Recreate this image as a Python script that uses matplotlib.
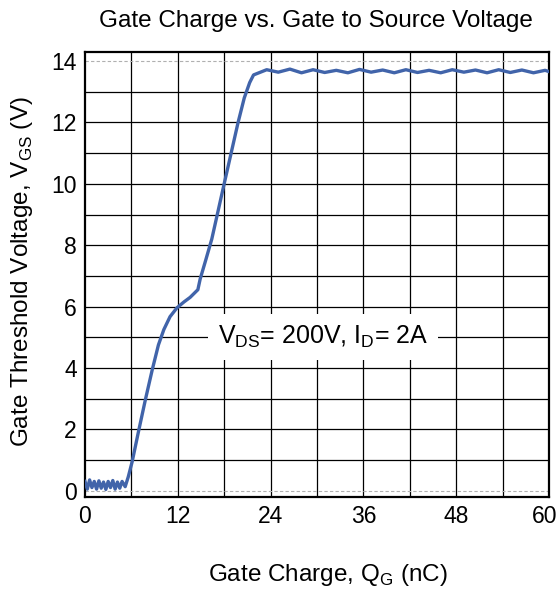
import matplotlib
matplotlib.use("Agg")
import matplotlib.pyplot as plt
import matplotlib.transforms as mtransforms
import numpy as np

plt.rcParams['font.family'] = ['Liberation Sans', 'DejaVu Sans']
plt.rcParams['mathtext.fontset'] = 'custom'
plt.rcParams['mathtext.rm'] = 'Liberation Sans'

# Gate charge (nC) and gate-source voltage (V)
qg = [0.0, 0.3, 0.6, 0.9, 1.2, 1.5, 1.8, 2.1, 2.4, 2.7, 3.0, 3.3, 3.6, 3.9,
      4.2, 4.5, 4.8, 5.2,
      5.6, 6.1, 6.9, 7.8, 8.7, 9.5, 10.2, 11.0, 11.9, 12.8, 13.6, 14.6,
      14.9, 15.6, 16.4, 17.2, 18.0, 18.9, 19.8, 20.6, 21.3, 21.8, 22.5,
      23.5, 25.0, 26.5, 28.0, 29.5, 31.0, 32.5, 34.0, 35.5, 37.0, 38.5,
      40.0, 41.5, 43.0, 44.5, 46.0, 47.5, 49.0, 50.5, 52.0, 53.5, 55.0,
      56.5, 58.0, 59.5, 60.0]
vgs = [0.30, 0.05, 0.35, 0.10, 0.30, 0.05, 0.32, 0.08, 0.28, 0.04, 0.30, 0.10,
       0.33, 0.05, 0.28, 0.08, 0.30, 0.13,
       0.45, 0.94, 1.90, 2.95, 3.94, 4.75, 5.25, 5.67, 5.96, 6.15, 6.30, 6.55,
       6.90, 7.50, 8.20, 9.10, 10.00, 11.00, 12.00, 12.80, 13.30, 13.55, 13.62,
       13.72, 13.64, 13.74, 13.62, 13.72, 13.63, 13.70, 13.62, 13.73, 13.64, 13.71,
       13.62, 13.72, 13.63, 13.70, 13.62, 13.72, 13.64, 13.71, 13.62, 13.72, 13.63,
       13.71, 13.62, 13.70, 13.66]

x_ticks = [0, 12, 24, 36, 48, 60]
y_ticks = [0, 2, 4, 6, 8, 10, 12, 14]

fig = plt.figure(figsize=(5.59, 5.9), dpi=100)
ax = fig.add_axes([0.152, 0.158, 0.830, 0.754])

ax.set_xlim(0, 60)
ax.set_ylim(-0.2, 14.3)

# grid
for xv in np.arange(6, 60, 6):
    ax.axvline(xv, color='black', lw=0.9, zorder=1)
for yv in range(1, 14):
    ax.axhline(yv, color='black', lw=0.9, zorder=1)
for yv in (0, 14):
    ax.axhline(yv, color='#b0b0b0', lw=0.8, ls=(0, (3, 2)), zorder=1)

ax.plot(qg, vgs, color='#4164AA', lw=2.4, zorder=3)

ax.set_xticks(x_ticks)
ax.set_yticks(y_ticks)
ax.tick_params(length=0, labelsize=16.5, pad=6)
for s in ax.spines.values():
    s.set_linewidth(1.6)

# nudge the last x tick label left so it stays inside the figure
last = ax.get_xticklabels()[-1]
last.set_transform(last.get_transform() +
                   mtransforms.ScaledTranslation(-4 / 100, 0, fig.dpi_scale_trans))

ax.text(30.8, 5.0, r'V$_{\mathregular{DS}}$= 200V, I$_{\mathregular{D}}$= 2A',
        fontsize=18, ha='center', va='center', zorder=4,
        bbox=dict(facecolor='white', edgecolor='none', pad=7))

fig.text(0.566, 0.965, 'Gate Charge vs. Gate to Source Voltage', fontsize=17.5,
         ha='center', va='center')
fig.text(0.587, 0.025, r'Gate Charge, Q$_{\mathregular{G}}$ (nC)', fontsize=17.5,
         ha='center', va='center')
fig.text(0.04, 0.54, r'Gate Threshold Voltage, V$_{\mathregular{GS}}$ (V)', fontsize=17.5,
         ha='center', va='center', rotation=90)

fig.savefig('out.png', dpi=100)
